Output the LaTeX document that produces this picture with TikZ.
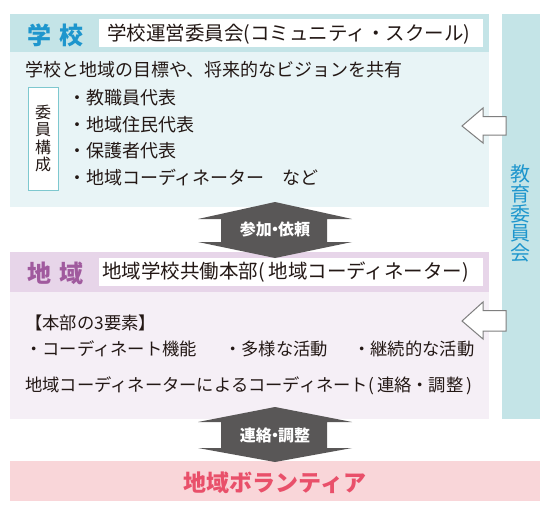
\documentclass[tikz,border=0pt]{standalone}
\usepackage{fontspec}
\newfontfamily\jp{Noto Sans CJK JP}
\definecolor{schoolhead}{HTML}{C4E4E7}
\definecolor{schoolbody}{HTML}{E8F4F6}
\definecolor{regionhead}{HTML}{E7D5E9}
\definecolor{regionbody}{HTML}{F5EFF6}
\definecolor{bluetxt}{HTML}{1E96CD}
\definecolor{purpletxt}{HTML}{A05A9E}
\definecolor{pinkbox}{HTML}{F9D6D9}
\definecolor{pinktxt}{HTML}{E9506A}
\definecolor{darkarrow}{HTML}{595757}
\definecolor{hollowline}{HTML}{7F7F7F}
\definecolor{commline}{HTML}{7EC8CF}
\definecolor{txtc}{HTML}{231815}
\tikzset{
  txt/.style={inner sep=0pt, anchor=west, text=txtc, font=\jp\fontsize{18}{20}\selectfont},
  rtxt/.style={inner sep=0pt, anchor=west, text=txtc, font=\jp\fontsize{17.3}{20}\selectfont},
  headtxt/.style={inner sep=0pt, anchor=west, text=txtc, font=\jp\fontsize{19.5}{20}\selectfont},
  titletxt/.style={inner sep=0pt, anchor=west, font=\jp\bfseries\fontsize{24}{26}\selectfont},
  arrowtxt/.style={inner sep=0pt, text=white, font=\jp\bfseries\fontsize{16}{18}\selectfont},
  hollow/.style={fill=white, draw=hollowline, line width=1pt, line join=miter},
  dark/.style={fill=darkarrow, draw=none}
}
\begin{document}
\begin{tikzpicture}[x=1pt, y=-1pt]
\useasboundingbox (0,0) rectangle (550,506);
% school block
\fill[schoolhead] (10,14) rectangle (489,52);
\fill[schoolbody] (10,52) rectangle (489,207);
\node[fill=white, inner sep=0pt, minimum width=384pt, minimum height=28pt, anchor=north west] (shead) at (99,19) {};
\node[titletxt, text=bluetxt] (stitle) at (27,35) {学\hspace{8pt}校};
\node[headtxt] (sheadtxt) at (107,34) {学校運営委員会(コミュニティ・スクール)};
\node[txt] (sline) at (25,70) {学校と地域の目標や、将来的なビジョンを共有};
\node[draw=commline, line width=0.8pt, fill=white, inner sep=0pt, minimum width=30pt, minimum height=103pt, align=center, text=txtc, font=\jp\fontsize{16}{17.4}\selectfont] (comm) at (43,138.5) {委\\員\\構\\成};
\node[txt] (m1) at (68,98) {・教職員代表};
\node[txt] (m2) at (68,124.5) {・地域住民代表};
\node[txt] (m3) at (68,151) {・保護者代表};
\node[txt] (m4) at (68,178) {・地域コーディネーター　など};
% region block
\fill[regionhead] (10,252) rectangle (489,292);
\fill[regionbody] (10,292) rectangle (489,419);
\node[fill=white, inner sep=0pt, minimum width=384pt, minimum height=28pt, anchor=north west] (rhead) at (99,258) {};
\node[titletxt, text=purpletxt] (rtitle) at (27,273) {地\hspace{8pt}域};
\node[headtxt] (rheadtxt) at (102,272) {地域学校共働本部(\hspace{4pt}地域コーディネーター)};
\node[rtxt] (r1) at (25,323) {【本部の3要素】};
\node[rtxt] (r2a) at (25,349) {・コーディネート機能};
\node[rtxt] (r2b) at (224,349) {・多様な活動};
\node[rtxt] (r2c) at (353,349) {・継続的な活動};
\node[rtxt] (r3) at (25,386) {地域コーディネーターによるコーディネート(\hspace{3pt}連絡・調整\hspace{3pt})};
% side bar
\fill[schoolhead] (502,14) rectangle (540,419);
\node[inner sep=0pt, align=center, text=bluetxt, font=\jp\fontsize{20}{19.8}\selectfont] (board) at (520.5,213.5) {教\\育\\委\\員\\会};
% hollow arrows
\draw[hollow] (462,126) -- (483,108) -- (483,116.5) -- (506,116.5) -- (506,135) -- (483,135) -- (483,143) -- cycle;
\draw[hollow] (462,321) -- (483,302) -- (483,310.5) -- (506,310.5) -- (506,331) -- (483,331) -- (483,339) -- cycle;
% dark double arrows
\fill[dark] (275,202) -- (352,219) -- (327,219) -- (327,242) -- (352,242) -- (275,258) -- (198,242) -- (221,242) -- (221,219) -- (198,219) -- cycle;
\node[arrowtxt] (a1) at (275,229.5) {参加{\kern-0.3em}・{\kern-0.3em}依頼};
% volunteer
\fill[pinkbox] (10,461) rectangle (540,501);
\fill[dark] (275,407) -- (352,422) -- (327,422) -- (327,448) -- (352,448) -- (275,462) -- (198,448) -- (221,448) -- (221,422) -- (198,422) -- cycle;
\node[arrowtxt] (a2) at (275,435.5) {連絡{\kern-0.3em}・{\kern-0.3em}調整};
\node[inner sep=0pt, text=pinktxt, font=\jp\bfseries\fontsize{23}{25}\selectfont] (vol) at (275,483) {地域ボランティア};
\end{tikzpicture}
\end{document}
